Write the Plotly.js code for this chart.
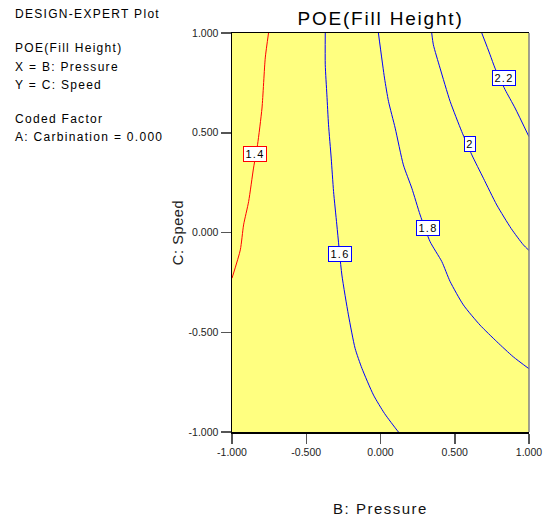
<!DOCTYPE html>
<html>
<head>
<meta charset="utf-8">
<script src="https://cdn.plot.ly/plotly-3.0.1.min.js"></script>
<style>
  html, body { margin: 0; padding: 0; background: #ffffff; }
  .gtitle { letter-spacing: 1.8px; }
  .xtitle { letter-spacing: 1.5px; }
  .ytitle { letter-spacing: 0.6px; }
  .annotation-text { letter-spacing: 1.3px; }
</style>
</head>
<body>
<div id="chart" style="width:544px;height:518px;"></div>
<script>
// Contour levels and their traced lines (B: Pressure on x, C: Speed on y)
const levelNames = ["1.4", "1.6", "1.8", "2", "2.2"];

const c14x = [-0.754, -0.776, -0.798, -0.828, -0.855, -0.888, -0.922, -0.944, -1.0];
const c14y = [1.0, 0.875, 0.624, 0.44, 0.323, 0.155, 0.038, -0.087, -0.229];

const c16x = [-0.372, -0.372, -0.361, -0.35, -0.332, -0.316, -0.294, -0.26, -0.216, -0.171, -0.125, -0.047, 0.027, 0.11, 0.121];
const c16y = [1.0, 0.841, 0.69, 0.54, 0.373, 0.205, 0.038, -0.213, -0.413, -0.581, -0.681, -0.815, -0.907, -0.99, -1.0];

const c18x = [-0.014, 0.027, 0.054, 0.099, 0.154, 0.211, 0.267, 0.334, 0.413, 0.469, 0.558, 0.67, 0.783, 0.894, 1.0];
const c18y = [1.0, 0.774, 0.657, 0.523, 0.339, 0.222, 0.088, -0.046, -0.146, -0.246, -0.363, -0.464, -0.547, -0.623, -0.683];

const c20x = [0.345, 0.356, 0.401, 0.469, 0.547, 0.615, 0.693, 0.783, 0.88, 0.962, 1.0];
const c20y = [1.0, 0.941, 0.824, 0.657, 0.506, 0.389, 0.272, 0.138, 0.02, -0.062, -0.09];

const c22x = [0.682, 0.738, 0.771, 0.839, 0.906, 1.0];
const c22y = [1.0, 0.891, 0.824, 0.716, 0.624, 0.48];

// Label positions on each contour line
const labelX = [-0.847, -0.27, 0.323, 0.6, 0.831];
const labelY = [0.394, -0.106, 0.023, 0.444, 0.772];

// Axis ticks
const tickVals = [-1, -0.5, 0, 0.5, 1];
const tickText = ["-1.000", "-0.500", "0.000", "0.500", "1.000"];

// Side legend text
const sideText = ["DESIGN-EXPERT Plot", "POE(Fill Height)", "X = B: Pressure", "Y = C: Speed", "Coded Factor", "A: Carbination = 0.000"];

const lineXs = [c14x, c16x, c18x, c20x, c22x];
const lineYs = [c14y, c16y, c18y, c20y, c22y];
const lineColors = ["#ff0000", "#0000ff", "#0000ff", "#0000ff", "#0000ff"];

const FONT = "Liberation Sans, Arial, sans-serif";

const traces = levelNames.map((n, i) => ({
  type: "scatter",
  mode: "lines",
  name: n,
  x: lineXs[i],
  y: lineYs[i],
  line: { color: lineColors[i], width: 1, shape: "spline", smoothing: 0.6 },
  hoverinfo: "skip"
}));

// Layout pixel helpers (plot area 232..529 x, 33..432 y)
const L = 232, R = 15, T = 33, B = 86, W = 544, H = 518;
const pw = W - L - R, ph = H - T - B;
const sideYpx = [14.5, 48, 66.5, 85, 118.5, 137];

const annotations = [];
levelNames.forEach((n, i) => {
  annotations.push({
    x: labelX[i], y: labelY[i], xref: "x", yref: "y",
    text: n, showarrow: false,
    font: { family: FONT, size: 11, color: "#000" },
    bgcolor: "#ffffff", bordercolor: lineColors[i], borderwidth: 1, borderpad: 1,
    width: n.length === 1 ? 8 : 20
  });
});
sideText.forEach((t, i) => {
  annotations.push({
    x: (13 - L) / pw, y: (H - B - sideYpx[i]) / ph, xref: "paper", yref: "paper",
    xanchor: "left", yanchor: "middle", align: "left",
    text: t, showarrow: false,
    font: { family: FONT, size: 12, color: "#000" }
  });
});

const layout = {
  width: W, height: H,
  margin: { l: L, r: R, t: T, b: B, pad: 0 },
  paper_bgcolor: "#ffffff",
  plot_bgcolor: "#ffff80",
  showlegend: false,
  title: {
    text: "POE(Fill Height)",
    font: { family: FONT, size: 19, color: "#000" },
    x: 0.5, xref: "paper", xanchor: "center",
    y: 1 - 18 / H, yref: "container", yanchor: "middle"
  },
  xaxis: {
    range: [-1, 1], tickvals: tickVals, ticktext: tickText,
    showgrid: false, zeroline: false,
    showline: true, linecolor: "#000", linewidth: 1.5, mirror: true,
    ticks: "outside", ticklen: 10, tickwidth: 1.5, tickcolor: "#555",
    tickfont: { family: FONT, size: 10.5, color: "#222" },
    title: { text: "B: Pressure", font: { family: FONT, size: 15, color: "#111" }, standoff: 46 }
  },
  yaxis: {
    range: [-1, 1], tickvals: tickVals, ticktext: tickText,
    showgrid: false, zeroline: false,
    showline: true, linecolor: "#000", linewidth: 1.5,
    ticks: "outside", ticklen: 10, tickwidth: 1.5, tickcolor: "#555",
    tickfont: { family: FONT, size: 10.5, color: "#222" },
    title: { text: "C: Speed", font: { family: FONT, size: 14.5, color: "#222" }, standoff: 1 }
  },
  shapes: [
    { type: "line", xref: "paper", yref: "paper", x0: 1, x1: 1, y0: 0, y1: 1,
      line: { color: "#808080", width: 1.5 } }
  ],
  annotations: annotations
};

Plotly.newPlot("chart", traces, layout, { staticPlot: true, displayModeBar: false });
</script>
</body>
</html>
